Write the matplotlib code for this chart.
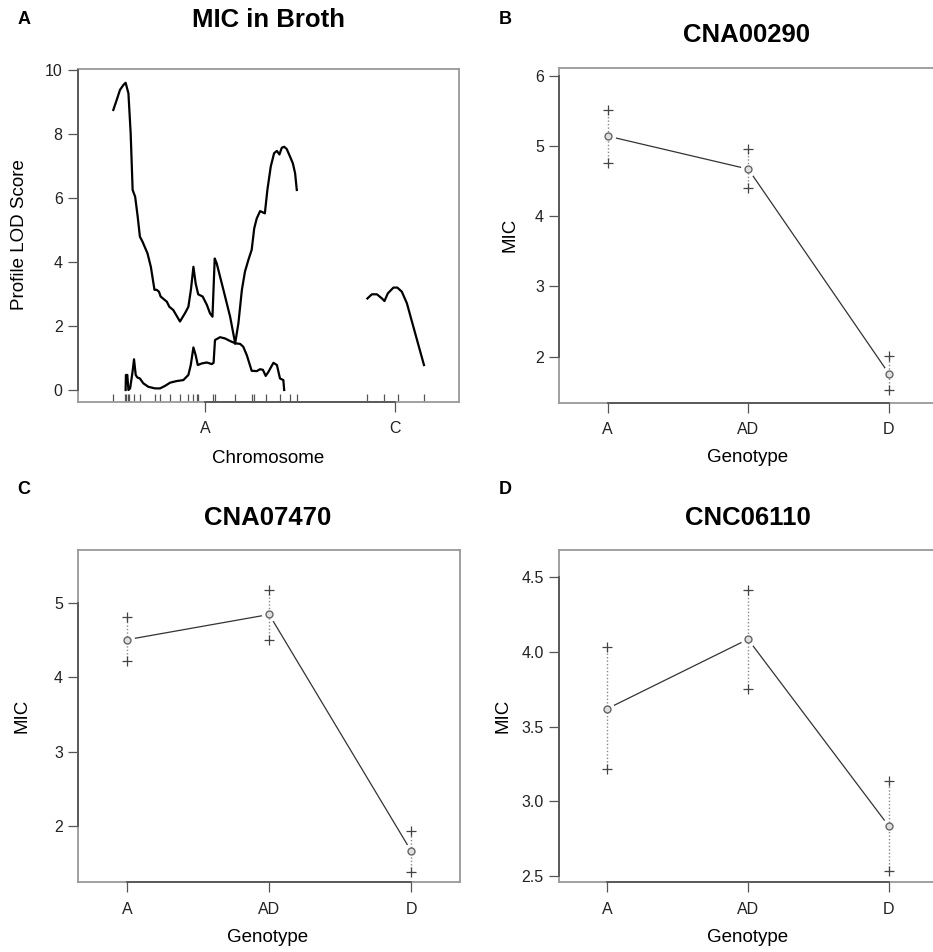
import matplotlib
matplotlib.use("Agg")
import matplotlib.pyplot as plt
import matplotlib.transforms as mtransforms

plt.rcParams['font.family'] = ['Liberation Sans', 'DejaVu Sans']

# ---- panel A: profile LOD (positions in cM within chromosome) ----
chr_names = ['A', 'C']
chr_len = [65.6, 20.4]
gap = 25.0

markers_A = [0.1, 4.3, 4.8, 5.3, 5.7, 7.5, 9.6, 15.0, 16.8, 20.4, 23.9, 26.6,
             28.7, 29.8, 30.5, 35.7, 36.4, 43.6, 49.5, 50.4, 54.5, 59.6, 63.2, 65.5]
markers_C = [0.2, 6.1, 11.3, 20.4]

# QTL 1 on A
q1_pos = [0.1, 1.3, 2.5, 3.7, 4.5, 5.5, 6.3, 7.0, 7.9, 8.8, 9.6, 10.5, 12.3, 13.5,
          14.8, 15.6, 16.4, 17.0, 19.2, 20.1, 21.5, 23.9, 25.7, 26.9, 27.8, 28.7,
          29.5, 30.4, 32.0, 33.5, 34.6, 35.5, 36.3, 37.0, 39.4, 41.8, 43.6]
q1_lod = [8.75, 9.06, 9.38, 9.53, 9.6, 9.27, 8.02, 6.25, 6.04, 5.42, 4.79, 4.64, 4.27,
          3.85, 3.13, 3.13, 3.07, 2.92, 2.76, 2.6, 2.5, 2.14, 2.4, 2.6, 3.13, 3.85,
          3.33, 2.99, 2.92, 2.66, 2.4, 2.29, 4.11, 3.96, 3.13, 2.29, 1.46]
# QTL 2 on A
q2_pos = [4.5, 4.6, 5.1, 5.5, 6.1, 6.9, 7.5, 8.1, 8.7, 9.6, 10.8, 12.6, 15.0, 16.8,
          18.6, 20.4, 22.75, 25.1, 26.9, 27.75, 28.7, 29.5, 30.25, 31.7, 33.5, 35.25,
          35.9, 36.4, 38.2, 40.0, 41.8, 43.6, 45.4, 46.5, 47.75, 49.5, 51.3, 52.5,
          53.5, 54.5, 55.5, 57.25, 58.5, 59.6, 60.8, 61.1]
q2_lod = [0.0, 0.47, 0.47, 0.0, 0.05, 0.52, 0.96, 0.47, 0.39, 0.36, 0.21, 0.1, 0.05,
          0.05, 0.13, 0.23, 0.28, 0.31, 0.47, 0.78, 1.33, 1.09, 0.78, 0.83, 0.86,
          0.81, 0.85, 1.56, 1.65, 1.61, 1.53, 1.46, 1.44, 1.35, 1.09, 0.6, 0.59,
          0.65, 0.63, 0.44, 0.57, 0.85, 0.78, 0.36, 0.31, 0.0]
# QTL 3 on A
q3_pos = [43.6, 44.75, 46.0, 47.1, 48.3, 49.5, 50.4, 51.3, 52.5, 54.2, 55.1, 56.3,
          57.5, 58.5, 59.4, 60.25, 61.1, 62.0, 63.2, 64.2, 65.0, 65.6]
q3_lod = [1.46, 2.08, 3.13, 3.7, 4.06, 4.38, 5.05, 5.36, 5.59, 5.52, 6.25, 6.98, 7.4,
          7.47, 7.36, 7.57, 7.6, 7.53, 7.29, 7.08, 6.77, 6.25]
# QTL on C
qc_pos = [0.2, 1.8, 3.6, 5.4, 6.3, 7.5, 9.5, 10.9, 12.5, 14.3, 16.6, 18.4, 20.4]
qc_lod = [2.86, 2.99, 2.99, 2.86, 2.78, 3.02, 3.2, 3.2, 3.07, 2.71, 1.98, 1.41, 0.78]

# ---- effect plots ----
genotypes = ['A', 'AD', 'D']
b_mean = [5.14, 4.67, 1.76]
b_up = [5.51, 4.95, 2.01]
b_lo = [4.76, 4.40, 1.52]
c_mean = [4.51, 4.85, 1.66]
c_up = [4.82, 5.18, 1.93]
c_lo = [4.22, 4.51, 1.38]
d_mean = [3.62, 4.085, 2.835]
d_up = [4.03, 4.415, 3.135]
d_lo = [3.215, 3.75, 2.53]

W, H = 933, 952
fig = plt.figure(figsize=(W / 100, H / 100), dpi=100)

BOX = '#999999'
AXC = '#555555'
TXT = '#222222'


def px_axes(l, r, t, b):
    return fig.add_axes([l / W, 1 - b / H, (r - l) / W, (b - t) / H])


def ftext(x, y, s, **kw):
    fig.text(x / W, 1 - y / H, s, ha='center', va='center', color='black', **kw)


def style(ax, yticks, ylim, xticks, xlabels, yfmt=None):
    ax.set_ylim(*ylim)
    ax.set_yticks(yticks)
    if yfmt:
        ax.set_yticklabels([yfmt % v for v in yticks])
    ax.set_xticks(xticks)
    ax.set_xticklabels(xlabels)
    for s in ax.spines.values():
        s.set_color(BOX)
        s.set_linewidth(1.3)
    ax.tick_params(direction='out', length=7, width=0.9, color=AXC,
                   labelsize=11.5, labelcolor=TXT)
    ax.tick_params(axis='x', pad=7)
    ax.tick_params(axis='y', pad=4)
    # darker axis lines between first and last tick (R style)
    tb = mtransforms.blended_transform_factory(ax.transData, ax.transAxes)
    ax.plot([xticks[0], xticks[-1]], [0, 0], color=AXC, lw=1.3, transform=tb,
            clip_on=False, zorder=5)
    tl = mtransforms.blended_transform_factory(ax.transAxes, ax.transData)
    ax.plot([0, 0], [yticks[0], yticks[-1]], color=AXC, lw=1.3, transform=tl,
            clip_on=False, zorder=5)


# ---------------- panel A ----------------
axA = px_axes(78, 459, 69, 402)
offs = []
o = gap / 2
for L in chr_len:
    offs.append(o)
    o += L + gap
xmax = o - gap / 2
axA.set_xlim(0, xmax)
mids = [offs[i] + chr_len[i] / 2 for i in range(len(chr_len))]
style(axA, [0, 2, 4, 6, 8, 10], (-0.375, 10.03), mids, chr_names)
for pos, lod in [(q1_pos, q1_lod), (q2_pos, q2_lod), (q3_pos, q3_lod)]:
    axA.plot([offs[0] + p for p in pos], lod, color='black', lw=1.6,
             solid_joinstyle='round')
axA.plot([offs[1] + p for p in qc_pos], qc_lod, color='black', lw=1.6,
         solid_joinstyle='round')
rug = [offs[0] + m for m in markers_A] + [offs[1] + m for m in markers_C]
tb = mtransforms.blended_transform_factory(axA.transData, axA.transAxes)
axA.vlines(rug, 0, 0.024, color='#555555', lw=0.9, transform=tb)

ftext(24, 20, 'A', fontsize=13, fontweight='bold')
ftext(268, 20, 'MIC in Broth', fontsize=18.5, fontweight='bold')
ftext(20, 235, 'Profile LOD Score', fontsize=13.5, rotation=90)
ftext(268, 458, 'Chromosome', fontsize=13.5)


# ---------------- effect panels ----------------
def effect(ax, mean, up, lo):
    x = list(range(1, len(mean) + 1))
    ax.set_xlim(0.655, 3.345)
    ax.plot(x, mean, color='#333333', lw=0.9, zorder=2)
    ax.plot(x, mean, ls='none', marker='o', ms=10, mfc='white', mec='white',
            zorder=3)
    ax.vlines(x, lo, up, color='#888888', lw=1.0, linestyles=(0, (1, 1.5)),
              zorder=4)
    ax.plot(x, up, ls='none', marker='+', ms=7.5, mew=0.9, color='#444444', zorder=5)
    ax.plot(x, lo, ls='none', marker='+', ms=7.5, mew=0.9, color='#444444', zorder=5)
    ax.plot(x, mean, ls='none', marker='o', ms=5, mfc='#e0e0e0', mec='#666666',
            mew=1.0, zorder=6)


axB = px_axes(559.3, 937.3, 68.3, 402.5)
effect(axB, b_mean, b_up, b_lo)
style(axB, [2, 3, 4, 5, 6], (1.348, 6.105), [1, 2, 3], genotypes)
ftext(505, 20, 'B', fontsize=13, fontweight='bold')
ftext(747, 35, 'CNA00290', fontsize=18.5, fontweight='bold')
ftext(510, 235, 'MIC', fontsize=13.5, rotation=90)
ftext(748, 457, 'Genotype', fontsize=13.5)

axC = px_axes(78.3, 460, 550, 882.3)
effect(axC, c_mean, c_up, c_lo)
style(axC, [2, 3, 4, 5], (1.236, 5.72), [1, 2, 3], genotypes)
ftext(24, 490, 'C', fontsize=13, fontweight='bold')
ftext(268, 518, 'CNA07470', fontsize=18.5, fontweight='bold')
ftext(22, 716, 'MIC', fontsize=13.5, rotation=90)
ftext(268, 937, 'Genotype', fontsize=13.5)

axD = px_axes(559, 937, 550, 882.3)
effect(axD, d_mean, d_up, d_lo)
style(axD, [2.5, 3.0, 3.5, 4.0, 4.5], (2.456, 4.683), [1, 2, 3], genotypes,
      yfmt='%.1f')
ftext(505, 490, 'D', fontsize=13, fontweight='bold')
ftext(748, 518, 'CNC06110', fontsize=18.5, fontweight='bold')
ftext(503, 716, 'MIC', fontsize=13.5, rotation=90)
ftext(748, 937, 'Genotype', fontsize=13.5)

fig.savefig('out.png', dpi=100)
